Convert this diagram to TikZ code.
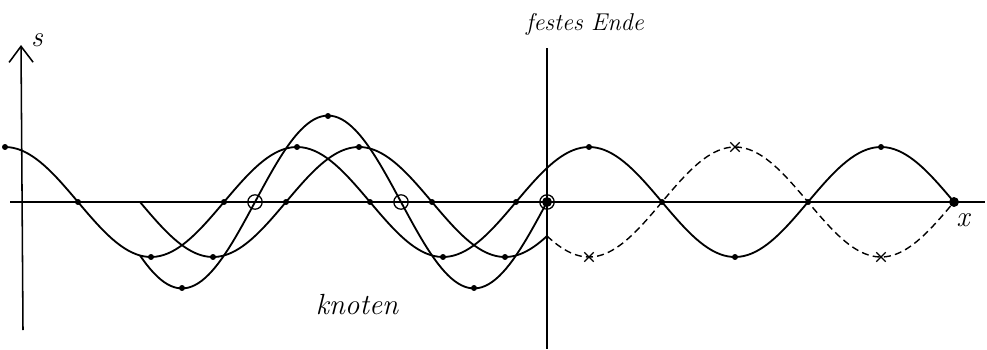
\documentclass[tikz,border=0pt]{standalone}
\usepackage{tikz}
\usetikzlibrary{arrows.meta, shapes.misc}

\begin{document}
\begin{tikzpicture}[
    x=0.025cm, y=-0.025cm,
    axis/.style={line width=1.1pt},
    wave/.style={line width=1.3pt, line join=round},
    mirror/.style={line width=1pt, dash pattern=on 5pt off 3pt},
    pt/.style={circle, fill=black, inner sep=1.5pt},
    knot/.style={circle, draw=black, line width=0.9pt, inner sep=0pt, minimum size=0.36cm},
    xmark/.style={cross out, draw=black, line width=0.9pt, inner sep=0pt, minimum size=0.2cm},
    hand/.style={font=\LARGE\itshape}
]
    \useasboundingbox (0,0) rectangle (987,349);

    % Axes
    \coordinate (s0) at (23,330);
    \coordinate (s1) at (21,45);
    \coordinate (x0) at (10,202);
    \coordinate (x1) at (985,202);
    \draw[axis] (x0) -- (x1);
    \draw[axis, -{Straight Barb[length=4mm, width=6mm]}] (s0) -- (s1);
    \node[hand, font=\huge\itshape] (slab) at (37,40) {s};
    \node[hand, font=\huge\itshape] (xlab) at (963,220) {x};

    % Fixed end
    \coordinate (w0) at (547,48);
    \coordinate (w1) at (547,349);
    \draw[axis] (w0) -- (w1);
    \node[hand] (fe) at (585,24) {festes Ende};

    % Incoming wave and its continuation (360/292 = 1.23288 deg per px)
    \draw[wave] plot[domain=5:954, samples=240] (\x, {202-55*cos(1.23288*(\x-589))});
    \draw[mirror] plot[domain=547:954, samples=120] (\x, {202+55*cos(1.23288*(\x-589))});

    % Reflected wave and sum
    \draw[wave] plot[domain=140:547, samples=120] (\x, {202+55*cos(1.23288*(\x-505))});
    \draw[wave] plot[domain=140:547, samples=120] (\x, {202-55*cos(1.23288*(\x-589))+55*cos(1.23288*(\x-505))});

    % Points
    \foreach \x in {5,297,589,881} \node[pt] (ap\x) at (\x,147) {};
    \foreach \x in {151,443,735} \node[pt] (am\x) at (\x,257) {};
    \foreach \x in {78,224,370,516,662,808} \node[pt] (az\x) at (\x,202) {};
    \foreach \x in {213,505} \node[pt] (bm\x) at (\x,257) {};
    \foreach \x in {286,432} \node[pt] (bz\x) at (\x,202) {};
    \node[pt] (bp) at (359,147) {};
    \node[pt] (cm1) at (182,288) {};
    \node[pt] (cp) at (328,116) {};
    \node[pt] (cm2) at (474,288) {};
    \foreach \x/\y in {589/257,735/147,881/257} \node[xmark] (d\x) at (\x,\y) {};
    \node[pt, inner sep=2.5pt] (end) at (954,202) {};

    % Nodes
    \node[knot] (k1) at (255,202) {};
    \node[knot] (k2) at (401,202) {};
    \node[knot] (k3) at (547,202) {};
    \node[pt, inner sep=2.5pt] (k3c) at (547,202) {};
    \node[hand, font=\huge\itshape] (klab) at (357,305) {knoten};
\end{tikzpicture}
\end{document}
